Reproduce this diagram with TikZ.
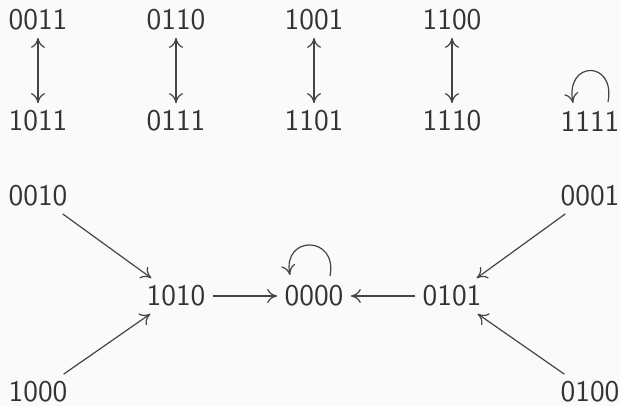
\documentclass[tikz,border=0pt]{standalone}
\usetikzlibrary{arrows.meta}
\definecolor{bgcol}{HTML}{FAFAFA}
\definecolor{txtcol}{HTML}{333333}
\definecolor{linecol}{HTML}{444444}
\begin{document}
\begin{tikzpicture}[x=0.5pt,y=-0.5pt,
  state/.style={font=\sffamily\fontsize{15}{18}\selectfont, text=txtcol, inner sep=3.5pt},
  trans/.style={draw=linecol, line width=0.6pt, -{To[length=5pt,width=7pt]}},
  both/.style={draw=linecol, line width=0.6pt, {To[length=5pt,width=7pt]}-{To[length=5pt,width=7pt]}}]
  \fill[bgcol] (0,0) rectangle (620,406);
  \useasboundingbox (0,0) rectangle (620,406);

  % two-cycles
  \node[state] (a1) at (38,20) {0011};
  \node[state] (b1) at (38,121) {1011};
  \node[state] (a2) at (176,20) {0110};
  \node[state] (b2) at (176,121) {0111};
  \node[state] (a3) at (314,20) {1001};
  \node[state] (b3) at (314,121) {1101};
  \node[state] (a4) at (452,20) {1100};
  \node[state] (b4) at (452,121) {1110};
  \foreach \i in {1,2,3,4} \draw[both] (a\i) -- (b\i);

  % fixed point 1111
  \node[state] (f) at (590,121) {1111};
  \coordinate (fr) at (608,102);
  \coordinate (fl) at (573,103);
  \draw[trans] (fr) .. controls (616,60) and (565,60) .. (fl);

  % tree into 0000
  \node[state] (s0010) at (38,196) {0010};
  \node[state] (s1000) at (38,392) {1000};
  \node[state] (s1010) at (176,296) {1010};
  \node[state] (s0000) at (314,296) {0000};
  \node[state] (s0101) at (452,296) {0101};
  \node[state] (s0001) at (590,196) {0001};
  \node[state] (s0100) at (590,392) {0100};

  \draw[trans] (s0010) -- (s1010);
  \draw[trans] (s1000) -- (s1010);
  \draw[trans] (s0001) -- (s0101);
  \draw[trans] (s0100) -- (s0101);
  \draw[trans] (s1010) -- (s0000);
  \draw[trans] (s0101) -- (s0000);

  \coordinate (zr) at (330,276);
  \coordinate (zl) at (290,275);
  \draw[trans] (zr) .. controls (338,235) and (282,235) .. (zl);
\end{tikzpicture}
\end{document}
